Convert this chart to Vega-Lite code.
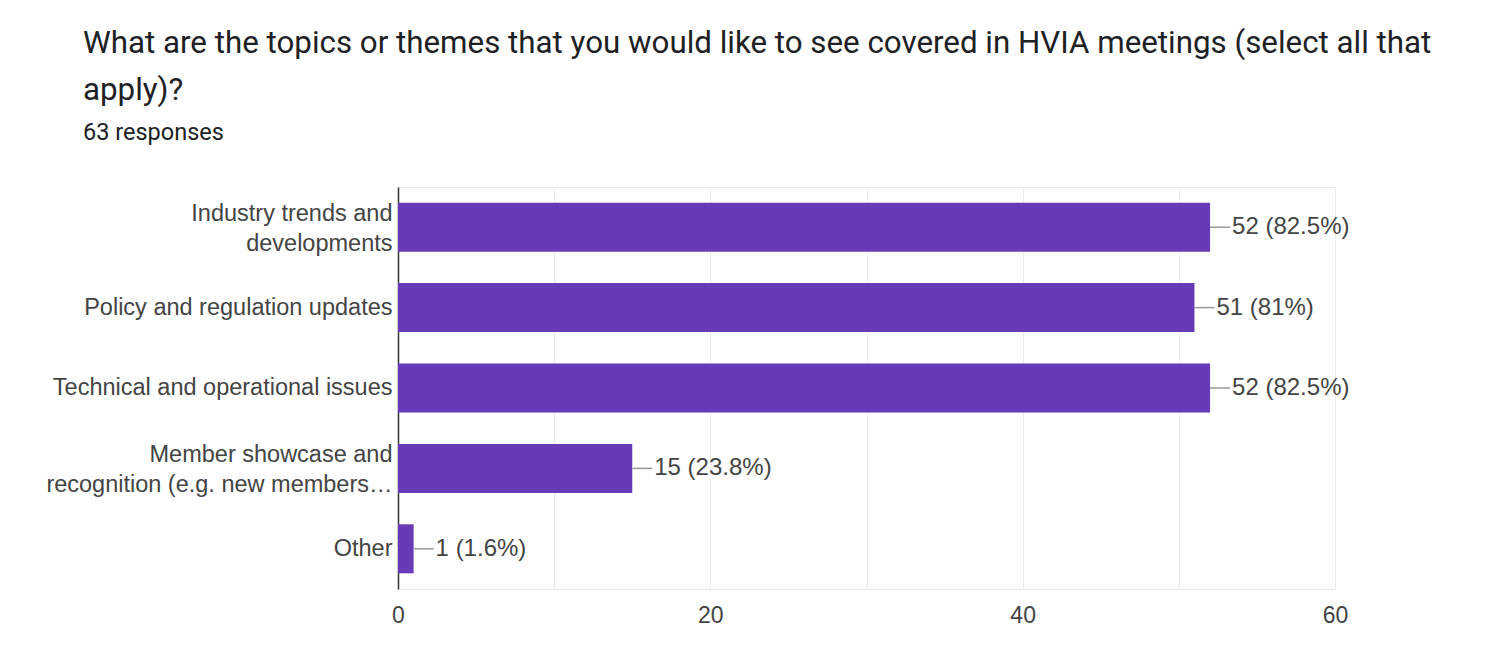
{
  "$schema": "https://vega.github.io/schema/vega-lite/v6.json",
  "width": 937,
  "height": 402,
  "autosize": {"type": "none"},
  "padding": {"left": 398, "top": 187, "right": 158, "bottom": 57},
  "background": "white",
  "title": {
    "text": ["What are the topics or themes that you would like to see covered in HVIA meetings (select all that", "apply)?"],
    "subtitle": "63 responses",
    "anchor": "start",
    "frame": "group",
    "dx": -315,
    "font": "Roboto",
    "fontSize": 31.3,
    "fontWeight": "normal",
    "color": "#202124",
    "lineHeight": 47,
    "subtitleFont": "Roboto",
    "subtitleFontSize": 23.5,
    "subtitleColor": "#202124",
    "subtitlePadding": 14,
    "offset": 43
  },
  "config": {"view": {"stroke": "#ebebeb"}},
  "data": {
    "values": [
      {"topic": "Industry trends and|developments", "count": 52, "label": "52 (82.5%)"},
      {"topic": "Policy and regulation updates", "count": 51, "label": "51 (81%)"},
      {"topic": "Technical and operational issues", "count": 52, "label": "52 (82.5%)"},
      {"topic": "Member showcase and|recognition (e.g. new members…", "count": 15, "label": "15 (23.8%)"},
      {"topic": "Other", "count": 1, "label": "1 (1.6%)"}
    ]
  },
  "encoding": {
    "y": {
      "field": "topic",
      "type": "nominal",
      "sort": null,
      "scale": {"paddingInner": 0.39, "paddingOuter": 0.195},
      "axis": {
        "title": null,
        "domainColor": "#333333",
        "domainWidth": 1.5,
        "ticks": false,
        "grid": false,
        "labelFont": "Liberation Sans",
        "labelFontSize": 23.5,
        "labelColor": "#444444",
        "labelPadding": 6,
        "labelLimit": 500,
        "labelLineHeight": 30,
        "labelOffset": {"condition": {"test": "indexof(datum.label, '|') >= 0", "value": -13}, "value": 0},
        "labelExpr": "split(datum.label, '|')"
      }
    }
  },
  "layer": [
    {
      "mark": {"type": "bar", "color": "#673ab7"},
      "encoding": {
        "x": {
          "field": "count",
          "type": "quantitative",
          "scale": {"domain": [0, 60], "nice": false},
          "axis": {
            "title": null,
            "values": [0, 10, 20, 30, 40, 50, 60],
            "labelExpr": "datum.value % 20 == 0 ? datum.label : ''",
            "labelFlush": false,
            "grid": true,
            "gridColor": "#ebebeb",
            "domain": false,
            "ticks": false,
            "labelFont": "Liberation Sans",
            "labelFontSize": 23,
            "labelColor": "#444444",
            "labelPadding": 15
          }
        }
      }
    },
    {
      "mark": {"type": "rule", "color": "#999999", "strokeWidth": 1.5, "x2Offset": 20},
      "encoding": {
        "x": {"field": "count", "type": "quantitative"},
        "x2": {"field": "count"}
      }
    },
    {
      "mark": {"type": "text", "align": "left", "baseline": "middle", "dx": 22, "font": "Liberation Sans", "fontSize": 24, "color": "#444444"},
      "encoding": {
        "x": {"field": "count", "type": "quantitative"},
        "text": {"field": "label"}
      }
    }
  ]
}
